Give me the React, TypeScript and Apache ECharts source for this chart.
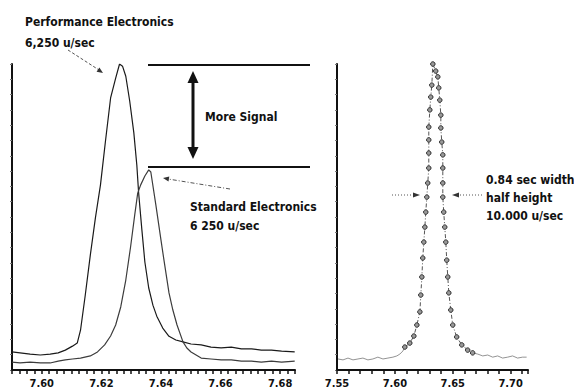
import { useEffect, useRef } from 'react';
import * as echarts from 'echarts';

// Left panel: retention time (min) vs detector signal (relative units)
const performanceData: [number, number][] = [
  [7.5900, 5.9], [7.5927, 5.6], [7.5961, 5.2], [7.5995, 4.9], [7.6028, 5.2], [7.6055, 5.6],
  [7.6079, 6.5], [7.6103, 7.8], [7.6119, 8.8], [7.6130, 13], [7.6146, 24.5], [7.6163, 37.6],
  [7.6180, 49.7], [7.6197, 60.5], [7.6214, 75], [7.6231, 88.9], [7.6248, 95.4], [7.6261, 100],
  [7.6271, 99.3], [7.6282, 96], [7.6295, 88], [7.6309, 77.5], [7.6319, 67], [7.6325, 58],
  [7.6336, 45.8], [7.6346, 35.3], [7.6359, 26.8], [7.6373, 21.2], [7.6386, 17.6], [7.6406, 13.7],
  [7.6427, 11], [7.6450, 9.8], [7.6474, 9.2], [7.6501, 8.5], [7.6535, 8.2], [7.6568, 7.5],
  [7.6602, 7.2], [7.6636, 7.5], [7.6670, 6.9], [7.6704, 6.9], [7.6737, 6.5], [7.6771, 6.5],
  [7.6805, 6.2], [7.6849, 5.9],
];

const standardData: [number, number][] = [
  [7.5900, 2.6], [7.5927, 2.3], [7.5961, 2.6], [7.5995, 2.3], [7.6028, 2.3], [7.6055, 2.9],
  [7.6079, 3.3], [7.6103, 3.6], [7.6130, 3.9], [7.6163, 4.6], [7.6187, 5.9], [7.6211, 8.2],
  [7.6231, 11.1], [7.6248, 14.7], [7.6265, 20.6], [7.6282, 29.4], [7.6298, 40.2], [7.6312, 50.7],
  [7.6322, 57.8], [7.6332, 60.5], [7.6346, 63.4], [7.6359, 65.4], [7.6366, 64.7], [7.6383, 53.9],
  [7.6400, 42.5], [7.6410, 36], [7.6427, 25.2], [7.6440, 19.6], [7.6454, 14.7], [7.6474, 9.2],
  [7.6487, 7.2], [7.6501, 5.9], [7.6518, 4.9], [7.6535, 3.9], [7.6568, 3.6], [7.6602, 3.3],
  [7.6636, 3.3], [7.6670, 2.9], [7.6704, 2.9], [7.6737, 2.6], [7.6771, 2.9], [7.6805, 2.6],
  [7.6849, 2.9],
];

// Right panel: sampled peak at 10,000 u/sec
const rightPeakData: [number, number][] = [
  [7.6086, 7.5], [7.6129, 8.8], [7.6164, 11.1], [7.6190, 14.7], [7.6216, 19.0], [7.6224, 24.5],
  [7.6233, 30.4], [7.6241, 36.6], [7.6250, 41.8], [7.6259, 46.7], [7.6267, 51.6], [7.6276, 56.5],
  [7.6284, 61.1], [7.6293, 66.0], [7.6293, 70.9], [7.6293, 75.2], [7.6293, 79.4], [7.6302, 85.0],
  [7.6310, 89.2], [7.6319, 93.1], [7.6328, 100], [7.6353, 97.7], [7.6371, 95.8], [7.6379, 92.2],
  [7.6388, 88.2], [7.6397, 83.3], [7.6397, 79.1], [7.6405, 74.5], [7.6414, 70.3], [7.6414, 66.0],
  [7.6414, 61.1], [7.6414, 56.5], [7.6422, 51.6], [7.6431, 46.7], [7.6440, 41.8], [7.6448, 35.9],
  [7.6457, 30.4], [7.6466, 25.2], [7.6483, 19.6], [7.6500, 14.7], [7.6534, 10.8], [7.6578, 8.2],
  [7.6629, 6.5], [7.6672, 5.6],
];

const rightNoiseLeft: [number, number][] = [
  [7.5509, 3.6], [7.5552, 3.3], [7.5595, 3.9], [7.5638, 3.3], [7.5681, 3.6], [7.5724, 3.9],
  [7.5767, 3.3], [7.5810, 3.6], [7.5853, 4.2], [7.5897, 3.6], [7.5940, 3.9], [7.5983, 4.2],
  [7.6017, 4.6], [7.6043, 5.2], [7.6069, 6.2], [7.6086, 7.5],
];

const rightNoiseRight: [number, number][] = [
  [7.6672, 5.6], [7.6716, 5.2], [7.6759, 4.6], [7.6802, 4.9], [7.6845, 4.2], [7.6888, 4.6],
  [7.6931, 3.9], [7.6974, 4.2], [7.7017, 4.6], [7.7060, 3.9], [7.7103, 4.2], [7.7138, 4.2],
];

const leftTickLabels = ['7.60', '7.62', '7.64', '7.66', '7.68'];
const rightTickLabels = ['7.55', '7.60', '7.65', '7.70'];

const FONT = '"Liberation Sans Narrow", "DejaVu Sans Condensed", "Arial Narrow", "Liberation Sans", sans-serif';
const INK = '#111';

function txt(text: string, x: number, y: number, size = 12) {
  return {
    type: 'text',
    x,
    y,
    z: 10,
    style: {
      text,
      fill: INK,
      font: `bold ${size}px ${FONT}`,
      align: 'left',
      verticalAlign: 'middle',
    },
  };
}

function line(x1: number, y1: number, x2: number, y2: number, width: number, dash?: number[], color = INK) {
  return {
    type: 'line',
    z: 10,
    shape: { x1, y1, x2, y2 },
    style: { stroke: color, lineWidth: width, lineDash: dash || null },
  };
}

function tri(points: number[][], color = INK) {
  return { type: 'polygon', z: 10, shape: { points }, style: { fill: color } };
}

export default function App() {
  const ref = useRef<HTMLDivElement>(null);
  useEffect(() => {
    const chart = echarts.init(ref.current!, null, { renderer: 'svg' });
    const axisText = { color: INK, fontSize: 11, fontWeight: 'bold', fontFamily: FONT, margin: 8 };
    chart.setOption({
      animation: false,
      backgroundColor: '#fff',
      grid: [
        { left: 12, top: 64, width: 283, height: 306 },
        { left: 337, top: 64, width: 191, height: 306 },
      ],
      xAxis: [
        {
          type: 'value', gridIndex: 0, min: 7.59, max: 7.685, interval: 0.0025,
          axisLine: { onZero: false, lineStyle: { color: INK, width: 2 } },
          axisTick: { show: true, length: 4, lineStyle: { color: INK, width: 1.5 } },
          splitLine: { show: false },
          axisLabel: {
            ...axisText,
            formatter: (v: number) => {
              const s = v.toFixed(2);
              return Math.abs(v * 50 - Math.round(v * 50)) < 1e-6 && leftTickLabels.includes(s) ? s : '';
            },
          },
        },
        {
          type: 'value', gridIndex: 1, min: 7.55, max: 7.715, interval: 0.01,
          axisLine: { onZero: false, lineStyle: { color: INK, width: 2 } },
          axisTick: { show: true, length: 4, lineStyle: { color: INK, width: 1.5 } },
          splitLine: { show: false },
          axisLabel: {
            ...axisText,
            formatter: (v: number) => {
              const s = v.toFixed(2);
              return Math.abs(v * 20 - Math.round(v * 20)) < 1e-6 && rightTickLabels.includes(s) ? s : '';
            },
          },
        },
      ],
      yAxis: [
        {
          type: 'value', gridIndex: 0, min: 0, max: 100, interval: 5,
          axisLine: { show: true, onZero: false, lineStyle: { color: INK, width: 2 } },
          axisTick: { show: true, length: 2, lineStyle: { color: '#777', width: 1 } },
          axisLabel: { show: false },
          splitLine: { show: false },
        },
        {
          type: 'value', gridIndex: 1, min: 0, max: 100, interval: 5,
          axisLine: { show: true, onZero: false, lineStyle: { color: INK, width: 2 } },
          axisTick: { show: true, length: 2, lineStyle: { color: '#777', width: 1 } },
          axisLabel: { show: false },
          splitLine: { show: false },
        },
      ],
      series: [
        {
          name: 'Performance Electronics', type: 'line', xAxisIndex: 0, yAxisIndex: 0,
          data: performanceData, showSymbol: false,
          lineStyle: { color: '#1a1a1a', width: 1.2 },
        },
        {
          name: 'Standard Electronics', type: 'line', xAxisIndex: 0, yAxisIndex: 0,
          data: standardData, showSymbol: false,
          lineStyle: { color: '#3c3c3c', width: 1.2 },
        },
        {
          name: 'Noise left', type: 'line', xAxisIndex: 1, yAxisIndex: 1,
          data: rightNoiseLeft, showSymbol: false,
          lineStyle: { color: '#777', width: 0.8 },
        },
        {
          name: 'Noise right', type: 'line', xAxisIndex: 1, yAxisIndex: 1,
          data: rightNoiseRight, showSymbol: false,
          lineStyle: { color: '#777', width: 0.8 },
        },
        {
          name: '10,000 u/sec', type: 'line', xAxisIndex: 1, yAxisIndex: 1,
          data: rightPeakData, symbol: 'circle', symbolSize: 4.5, showSymbol: true,
          itemStyle: { color: '#999', borderColor: '#333', borderWidth: 1 },
          lineStyle: { color: '#555', width: 1, type: [4, 2, 1, 2] },
        },
      ],
      graphic: [
        txt('Performance Electronics', 25, 22),
        txt('6,250 u/sec', 25, 43),
        txt('More Signal', 205, 117),
        txt('Standard Electronics', 190, 207),
        txt('6 250 u/sec', 190, 226),
        txt('0.84 sec width', 486, 180),
        txt('half height', 486, 198),
        txt('10.000 u/sec', 486, 216),
        line(148, 65, 310, 65, 2),
        line(148, 167, 310, 167, 2),
        line(193, 80, 193, 150, 3),
        tri([[193, 71], [187.5, 83], [198.5, 83]]),
        tri([[193, 159], [187.5, 147], [198.5, 147]]),
        line(68, 50, 99, 70, 1, [3, 2], '#555'),
        tri([[103, 73], [96.6, 71.8], [99.4, 67.6]], '#333'),
        line(230, 189, 168, 179, 1, [4, 2, 1, 2], '#555'),
        tri([[163, 178], [169.3, 176.5], [168.5, 181.5]], '#333'),
        line(392, 195, 414, 195, 1, [1, 2], '#555'),
        tri([[420, 195], [413, 192.5], [413, 197.5]], '#333'),
        line(482, 195, 458, 195, 1, [1, 2], '#555'),
        tri([[452, 195], [459, 192.5], [459, 197.5]], '#333'),
      ],
    });
    return () => chart.dispose();
  }, []);
  return (
    <div
      ref={ref}
      style={{ position: 'fixed', left: 0, top: 0, width: 574, height: 392, background: '#fff' }}
    />
  );
}
